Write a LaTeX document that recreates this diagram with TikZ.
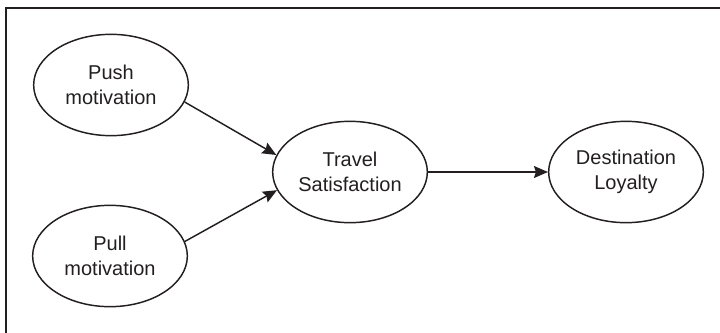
\documentclass[tikz,border=0pt]{standalone}
\usepackage{fontspec}
\setmainfont{Liberation Sans}
\usetikzlibrary{shapes.geometric,arrows.meta}
\definecolor{ink}{RGB}{35,31,32}
\begin{document}
\begin{tikzpicture}[x=0.75pt,y=-0.75pt,
  latent/.style={ellipse,draw=ink,line width=1.1pt,minimum width=116pt,minimum height=76pt,inner sep=0pt,
    text=ink,align=center,font=\fontsize{15pt}{18.75pt}\selectfont},
  link/.style={draw=ink,line width=1.1pt,-{Stealth[length=10.5pt,width=9pt,inset=1.5pt]}}]
\useasboundingbox (0,0) rectangle (720,332);
\draw[ink,line width=1.5pt] (6,333) -- (6,7.5) -- (721,7.5);
\node[latent] (push) at (111,85) {Push\\motivation};
\node[latent] (pull) at (110,256) {Pull\\motivation};
\node[latent] (travel) at (350,172) {Travel\\Satisfaction};
\node[latent] (dest) at (626,172) {Destination\\Loyalty};
\draw[link] (push.-13.7) -- (travel.167.4);
\draw[link] (pull.11.5) -- (travel.194.7);
\draw[link] (travel.0) -- (dest.180);
\end{tikzpicture}
\end{document}
